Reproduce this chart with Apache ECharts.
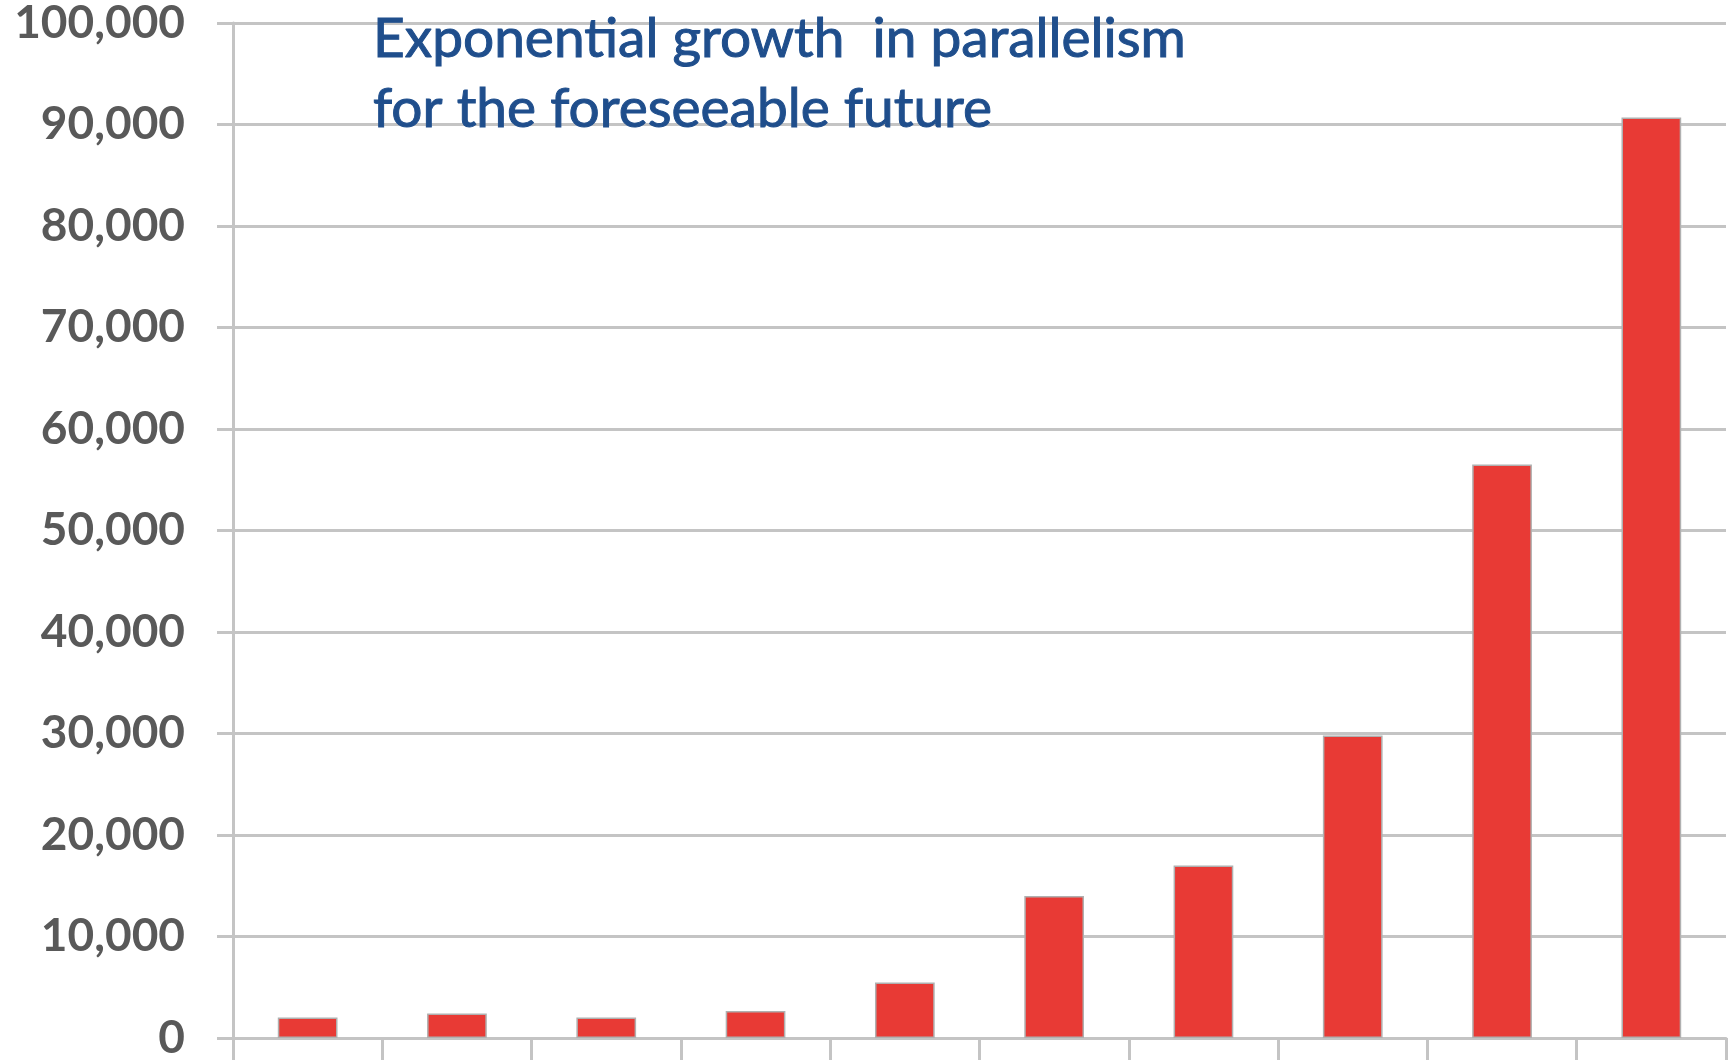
<!DOCTYPE html>
<html>
<head>
<meta charset="utf-8">
<script src="https://cdn.jsdelivr.net/npm/echarts@6/dist/echarts.min.js"></script>
<style>
html,body{margin:0;padding:0;background:#fff;}
#chart{width:1731px;height:1061px;}
</style>
</head>
<body>
<div id="chart"></div>
<script>
const categories = ['1','2','3','4','5','6','7','8','9','10'];
const values = [2030, 2420, 2030, 2650, 5470, 14000, 17000, 29800, 56500, 90700];
const titleLines = ['Exponential growth  in parallelism', 'for the foreseeable future'];

const chart = echarts.init(document.getElementById('chart'));
chart.setOption({
  animation: false,
  backgroundColor: '#ffffff',
  title: {
    text: titleLines.join('\n'),
    left: 368,
    top: -1,
    textStyle: {
      color: '#1F4E8C',
      fontFamily: 'Lato',
      fontWeight: 'normal',
      fontSize: 55,
      lineHeight: 70,
      textBorderColor: '#1F4E8C',
      textBorderWidth: 1
    }
  },
  grid: { left: 233, right: 5, top: 22.7, bottom: 18, containLabel: false },
  xAxis: {
    type: 'category',
    data: categories,
    axisLine: { show: true, lineStyle: { color: '#c4c4c4', width: 3 } },
    axisTick: { show: true, length: 22, lineStyle: { color: '#c4c4c4', width: 3 } },
    axisLabel: { show: false }
  },
  yAxis: {
    type: 'value',
    min: 0,
    max: 100000,
    interval: 10000,
    axisLine: { show: true, lineStyle: { color: '#c4c4c4', width: 3 } },
    axisTick: { show: true, length: 16, lineStyle: { color: '#c4c4c4', width: 3 } },
    splitLine: { show: true, lineStyle: { color: '#c4c4c4', width: 3 } },
    axisLabel: {
      margin: 48,
      color: '#595959',
      fontFamily: 'Lato',
      fontWeight: 'bold',
      fontSize: 46,
      formatter: v => v.toLocaleString('en-US')
    }
  },
  series: [{
    type: 'bar',
    data: values,
    barWidth: '40%',
    itemStyle: { color: '#E83A35', borderColor: '#b0b0b0', borderWidth: 1.5 }
  }]
});
</script>
</body>
</html>
